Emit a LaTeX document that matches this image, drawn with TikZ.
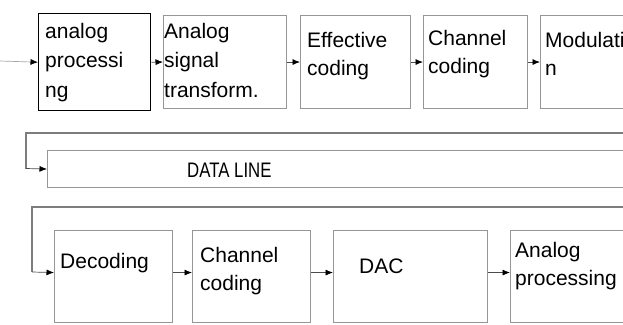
\documentclass[tikz,border=0pt]{standalone}
\usepackage{fontspec}
\setmainfont{Liberation Sans}
\usetikzlibrary{arrows.meta}
\definecolor{boxgray}{RGB}{150,150,150}
\definecolor{linegray}{RGB}{125,125,125}
\begin{document}
\begin{tikzpicture}[x=1pt,y=-1pt,
  box/.style={draw=boxgray, line width=1.1pt, fill=white, inner sep=0pt, anchor=north west},
  lbl/.style={anchor=base west, inner sep=0pt, text width=130pt, align=left,
    font=\fontsize{21}{28.5}\selectfont},
  arr/.style={draw=black!70, line width=0.7pt, -{Latex[length=7.5pt,width=6pt,black]}},
  loop/.style={draw=linegray, line width=1.1pt}]
\clip (0,0) rectangle (623,324);
\fill[white] (0,0) rectangle (623,324);
% top row
\node[box, draw=black, line width=1.4pt, minimum width=112pt, minimum height=97pt] (b1) at (38,13) {};
\node[box, minimum width=123pt, minimum height=93pt] (b2) at (163,15) {};
\node[box, minimum width=110pt, minimum height=93pt] (b3) at (300,15) {};
\node[box, minimum width=104pt, minimum height=93pt] (b4) at (423,15) {};
\node[box, minimum width=110pt, minimum height=93pt] (b5) at (540,15) {};
\node[lbl, font=\fontsize{21}{29.5}\selectfont] (t1) at (45,38) {analog\\processi\\ng};
\node[lbl, font=\fontsize{21}{29.5}\selectfont] (t2) at (164,38) {Analog\\signal\\transform.};
\node[lbl] (t3) at (307,47) {Effective\\coding};
\node[lbl] (t4) at (428,45) {Channel\\coding};
\node[lbl] (t5) at (545,47) {Modulati\\n};
\coordinate (in) at (0,61);
\draw[arr, draw=black!35] (in) -- (b1.west);
\draw[arr] (b1.east) -- (b2.west);
\draw[arr] (b2.east) -- (b3.west);
\draw[arr] (b3.east) -- (b4.west);
\draw[arr] (b4.east) -- (b5.west);
% data line
\node[box, minimum width=613pt, minimum height=37pt] (data) at (47,150) {};
\node[anchor=base west, inner sep=0pt, font=\fontsize{21}{25}\selectfont] (dt) at (187,177) {\scalebox{0.8}[1]{DATA LINE}};
\coordinate (l1) at (630,133);
\draw[loop] (l1) -- (26,133) -- (26,168.5);
\draw[arr] (26,168.5) -- (data.west);
% bottom row
\node[box, minimum width=118pt, minimum height=92pt] (d1) at (54,230) {};
\node[box, minimum width=118pt, minimum height=92pt] (d2) at (192,230) {};
\node[box, minimum width=154pt, minimum height=92pt] (d3) at (333,230) {};
\node[box, minimum width=130pt, minimum height=92pt] (d4) at (510,230) {};
\node[lbl] (u1) at (60,268) {Decoding};
\node[lbl] (u2) at (200,262) {Channel\\coding};
\node[lbl] (u3) at (359,273) {DAC};
\node[lbl] (u4) at (515,257) {Analog\\processing};
\coordinate (l2) at (630,207);
\draw[loop] (l2) -- (32,207) -- (32,272);
\draw[arr] (32,272) -- ([yshift=4pt]d1.west);
\draw[arr] ([yshift=4pt]d1.east) -- ([yshift=4pt]d2.west);
\draw[arr] ([yshift=4pt]d2.east) -- ([yshift=4pt]d3.west);
\draw[arr] ([yshift=4pt]d3.east) -- ([yshift=4pt]d4.west);
\end{tikzpicture}
\end{document}
